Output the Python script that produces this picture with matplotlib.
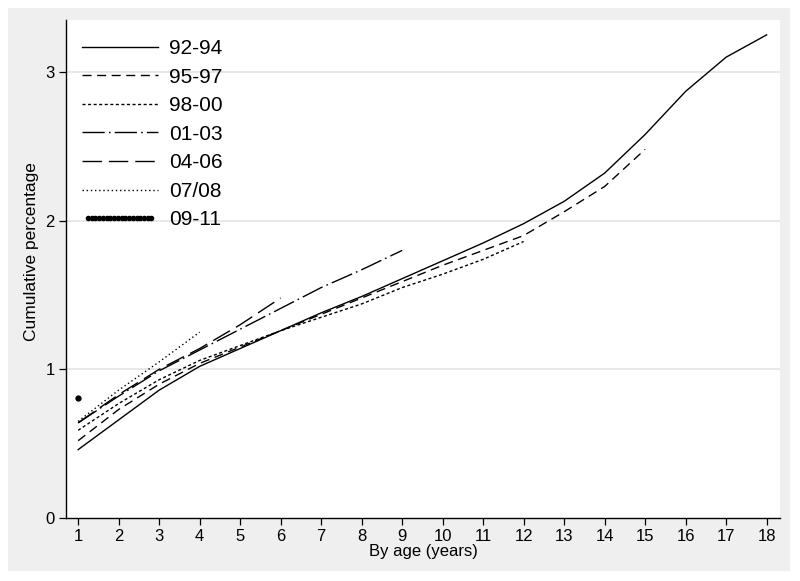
import matplotlib
matplotlib.use("Agg")
import matplotlib.pyplot as plt
from matplotlib.patches import Rectangle
from matplotlib.legend_handler import HandlerLine2D

plt.rcParams["font.family"] = ["Liberation Sans", "DejaVu Sans"]

# cumulative percentage by age, per birth cohort
ages = list(range(1, 19))
c92_94 = [0.46, 0.66, 0.86, 1.02, 1.14, 1.26, 1.38, 1.49, 1.61, 1.73, 1.85, 1.98,
          2.13, 2.32, 2.58, 2.87, 3.10, 3.25]
c95_97 = [0.52, 0.73, 0.90, 1.04, 1.15, 1.26, 1.37, 1.48, 1.59, 1.70, 1.80, 1.90,
          2.06, 2.23, 2.48]
c98_00 = [0.59, 0.77, 0.93, 1.06, 1.16, 1.26, 1.35, 1.44, 1.55, 1.64, 1.74, 1.86]
c01_03 = [0.64, 0.82, 0.99, 1.13, 1.27, 1.41, 1.55, 1.67, 1.80]
c04_06 = [0.64, 0.83, 1.00, 1.14, 1.30, 1.48]
c07_08 = [0.65, 0.86, 1.05, 1.25]
c09_11 = [0.81]

labels = ["92-94", "95-97", "98-00", "01-03", "04-06", "07/08", "09-11"]

fig = plt.figure(figsize=(8, 5.81), dpi=100)
fig.patch.set_facecolor("white")
# grey panel behind the plot
fig.add_artist(Rectangle((8 / 800, 1 - 571 / 581), 782 / 800, 563 / 581,
                         transform=fig.transFigure, facecolor="#efefef",
                         edgecolor="none", zorder=-10))

ax = fig.add_axes([66 / 800, 1 - 518 / 581, 714 / 800, 498 / 581])
ax.set_facecolor("white")

lw = 1.0
ax.plot(ages[:len(c92_94)], c92_94, color="black", lw=lw, label=labels[0])
ax.plot(ages[:len(c95_97)], c95_97, color="black", lw=lw, dashes=(6.5, 4), label=labels[1])
ax.plot(ages[:len(c98_00)], c98_00, color="black", lw=lw, dashes=(2.2, 1.8), label=labels[2])
ax.plot(ages[:len(c01_03)], c01_03, color="black", lw=lw, dashes=(16, 3, 1.2, 3), label=labels[3])
ax.plot(ages[:len(c04_06)], c04_06, color="black", lw=lw, dashes=(14, 5), label=labels[4])
ax.plot(ages[:len(c07_08)], c07_08, color="black", lw=lw, dashes=(1, 2), label=labels[5])
pt, = ax.plot(ages[:len(c09_11)], c09_11, color="black", lw=2.2, marker="o",
              markersize=3.5, label=labels[6])

ax.set_xlim(0.7, 18.33)
ax.set_ylim(0, 3.35)
ax.set_xticks(ages)
ax.set_yticks([0, 1, 2, 3])
ax.tick_params(axis="both", labelsize=12, length=5, width=0.9, colors="black", pad=3)

for y in [1, 2, 3]:
    ax.axhline(y, color="#e6e6e6", lw=1.3, zorder=0)

for s in ["top", "right"]:
    ax.spines[s].set_visible(False)
for s in ["left", "bottom"]:
    ax.spines[s].set_linewidth(1.0)

ax.set_xlabel("By age (years)", fontsize=12, labelpad=0)
ax.set_ylabel("Cumulative percentage", fontsize=12.5)
ax.yaxis.set_label_coords(-0.038, 0.535)

leg = ax.legend(loc="upper left", bbox_to_anchor=(0.022, 0.962), frameon=False,
                borderpad=0, borderaxespad=0,
                fontsize=15, handlelength=3.65, handletextpad=0.55, labelspacing=0.46,
                handler_map={pt: HandlerLine2D(numpoints=18)})
for h in leg.legend_handles[6:]:
    h.set_markersize(3)

fig.savefig("out.png", dpi=100)
